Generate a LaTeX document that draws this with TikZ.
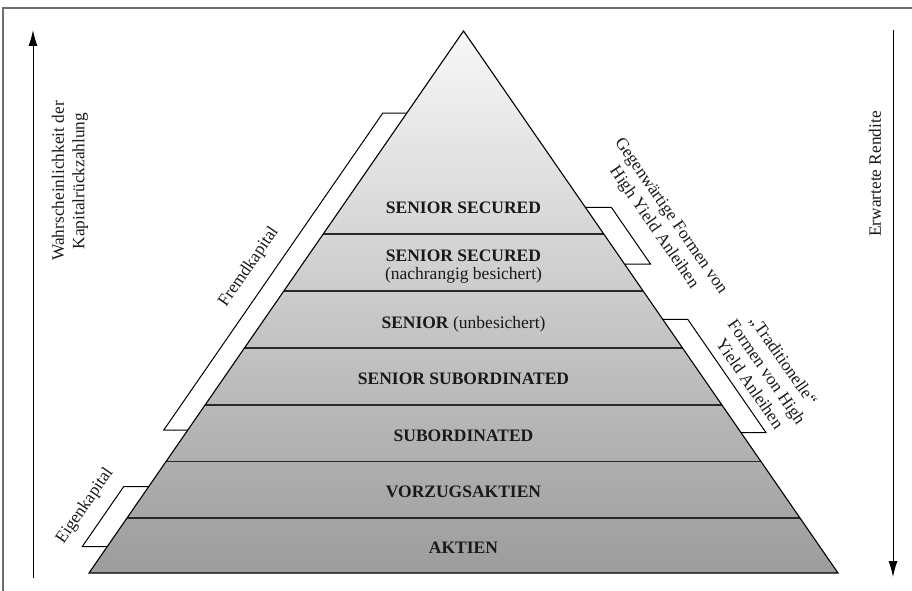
\documentclass[tikz,border=0pt]{standalone}
\usepackage{fontspec}
\setmainfont{Liberation Serif}
\usetikzlibrary{calc,arrows.meta}
\definecolor{topc}{RGB}{248,248,248}
\definecolor{botc}{RGB}{156,156,156}
\definecolor{framec}{RGB}{110,110,110}
\definecolor{layerc}{RGB}{40,40,40}
\definecolor{txtc}{RGB}{25,25,25}
\begin{document}
\begin{tikzpicture}[x=1pt,y=-1pt,
  lay/.style={anchor=base, text=txtc, inner sep=0pt, align=center, font=\fontsize{17.5}{17.5}\selectfont},
  lbl/.style={align=center, inner sep=0pt, text=txtc, font=\fontsize{17.3}{20.5}\selectfont},
  brk/.style={draw=black, line width=1pt, line join=miter},
  layerline/.style={draw=layerc, line width=1.3pt},
  axis/.style={draw=black, line width=1pt, -{Latex[length=16pt,width=9pt]}}]
\useasboundingbox (0,0) rectangle (912,591);
\draw[framec, line width=1.5pt] (3,591) -- (3,8) -- (912,8);
% pyramid
\coordinate (apex) at (463.5,31);
\coordinate (bl) at (89,573);
\coordinate (br) at (838,573);
\shade[top color=topc,bottom color=botc] (apex) -- (bl) -- (br) -- cycle;
\foreach \f [count=\i] in {0.3745,0.4797,0.5849,0.6900,0.7943,0.8985} {
  \coordinate (L\i) at ($(apex)!\f!(bl)$);
  \coordinate (R\i) at ($(apex)!\f!(br)$);
  \draw[layerline] (L\i) -- (R\i);
}
\draw[line width=1.1pt, line join=miter] (apex) -- (bl) -- (br) -- cycle;
% layer labels
\node[lay] (s1) at (463.5,213) {\textbf{SENIOR SECURED}};
\node[lay] (s2) at (463.5,279) {\textbf{SENIOR SECURED}\\(nachrangig besichert)};
\node[lay] (s3) at (463.5,328) {\textbf{SENIOR} (unbesichert)};
\node[lay] (s4) at (463.5,384) {\textbf{SENIOR SUBORDINATED}};
\node[lay] (s5) at (463.5,441) {\textbf{SUBORDINATED}};
\node[lay] (s6) at (463.5,497) {\textbf{VORZUGSAKTIEN}};
\node[lay] (s7) at (463.5,553) {\textbf{AKTIEN}};
% brackets
\coordinate (fT) at ($(apex)!0.1513!(bl)$);
\coordinate (fB) at ($(apex)!0.7362!(bl)$);
\draw[brk] (fT) -- ++(-24,0) -- ($(fB)+(-24,0)$) -- (fB);
\coordinate (eT) at ($(apex)!0.8408!(bl)$);
\coordinate (eB) at ($(apex)!0.9515!(bl)$);
\draw[brk] (eT) -- ++(-25,0) -- ($(eB)+(-25,0)$) -- (eB);
\coordinate (gT) at ($(apex)!0.3253!(br)$);
\coordinate (gB) at ($(apex)!0.4299!(br)$);
\draw[brk] (gT) -- ++(26,0) -- ($(gB)+(26,0)$) -- (gB);
\coordinate (tT) at ($(apex)!0.5319!(br)$);
\coordinate (tB) at ($(apex)!0.7411!(br)$);
\draw[brk] (tT) -- ++(25,0) -- ($(tB)+(25,0)$) -- (tB);
% axes
\coordinate (la0) at (33,578);
\coordinate (la1) at (33,30);
\draw[axis] (la0) -- (la1);
\coordinate (ra0) at (893,30);
\coordinate (ra1) at (893,577);
\draw[axis] (ra0) -- (ra1);
% side labels
\node[lbl, rotate=90] (wk) at (70,181) {Wahrscheinlichkeit der\\Kapitalrückzahlung};
\node[lbl, rotate=90] (er) at (875,174) {Erwartete Rendite};
\node[lbl, rotate=55.35] (fk) at (249,267) {Fremdkapital};
\node[lbl, rotate=55.35] (ek) at (85,506) {Eigenkapital};
\node[lbl, rotate=-55.35] (gf) at (662,222) {Gegenwärtige Formen von\\High Yield Anleihen};
\node[lbl, rotate=-55.35] (tf) at (767,372) {„Traditionelle“\\Formen von High\\Yield Anleihen};
\end{tikzpicture}
\end{document}
